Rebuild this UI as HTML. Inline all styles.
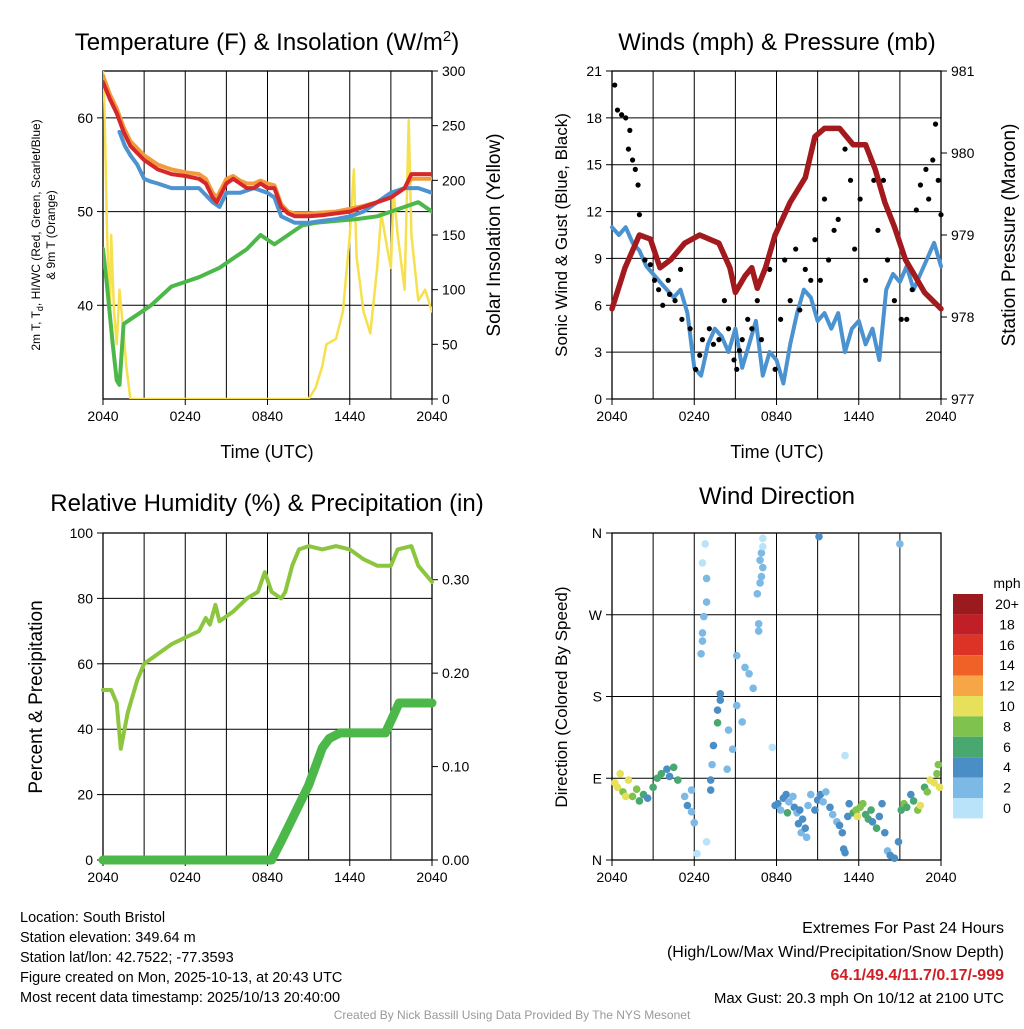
<!DOCTYPE html>
<html><head><meta charset="utf-8"><style>
body{margin:0;background:#fff;}
svg text{font-family:"Liberation Sans",sans-serif;fill:#000;}
</style></head><body>
<svg id="c" width="1024" height="1024" xmlns="http://www.w3.org/2000/svg"></svg>
<script>
// ---------- data ----------
const xTickLabels=["2040","0240","0840","1440","2040"];
// Panel 1: temperature (F) & insolation
const redT=[0,0.5,1,1.5,2,3,4,5,6,7,7.5,8,8.3,9,9.5,10,10.5,11,11.5,12,12.5,13,13.5,14,15,16,17,18,19,20,21,22,22.5,23,24];
const redV=[63.8,62,60.5,58.5,57,55.5,54.5,54,53.8,53.5,53,51.5,51,53,53.5,53,52.5,52.5,53,52.5,52.5,50.5,49.8,49.5,49.5,49.6,49.8,50,50.5,51,51.5,52.5,54,54,54];
const orgV=[64.5,62.5,61,59,57.5,56,55,54.5,54.2,54,53.5,52,51.5,53.5,53.8,53.3,53,53,53.3,53,52.8,50.8,50,49.8,49.8,49.9,50,50.3,50.6,51,51.5,52.5,53.5,53.5,53.5];
const bluT=[1.2,1.6,2,2.5,3,3.5,4,5,6,7,8,8.5,9,10,11,12,12.5,13,14,15,16,17,18,19,20,21,22,23,24];
const bluV=[58.5,57,56,55,53.5,53.2,53,52.5,52.5,52.5,51,50.5,52,52,52.5,52,51.5,49.5,48.8,48.8,49,49.2,49.5,50,51,52,52.5,52.5,52];
const grnT=[0,0.3,0.7,1,1.2,1.5,2,2.5,3.5,5,6,7,8.5,9.5,10.5,11.5,12,12.5,13.5,14.5,15.5,17,18.5,20,21,22,23,23.5,24];
const grnV=[46,42,36,32,31.5,38,38.5,39,40,42,42.5,43,44,45,46,47.5,47,46.5,47.5,48.5,48.8,49,49.2,49.5,50,50.5,51,50.5,50];
const solT=[0,0.1,0.3,0.5,0.6,0.8,1,1.2,1.5,1.7,2,15,15.5,16,16.3,17,17.5,18,18.2,18.3,18.5,19,19.5,20,20.3,20.7,21,21.2,21.5,22,22.3,22.5,23,23.5,24];
const solV=[300,270,150,80,150,80,50,100,60,30,0,0,10,30,50,55,80,150,190,210,130,80,60,120,170,140,120,190,150,100,255,150,90,100,80];
// Panel 2: winds & pressure
const presT=[0,0.95,2,2.8,3.5,4.3,5.3,6.4,7.8,8.6,9,9.7,10.2,10.6,11.2,11.9,13,14.1,14.8,15.5,16.6,17.6,18.5,19.2,19.9,20.6,21.4,22.1,22.8,24];
const presV=[978.1,978.6,979.0,978.95,978.6,978.7,978.9,979.0,978.9,978.6,978.3,978.5,978.6,978.35,978.6,979.0,979.4,979.7,980.2,980.3,980.3,980.1,980.1,979.8,979.4,979.1,978.7,978.5,978.3,978.1];
const windT=[0,0.5,1,1.5,2,2.5,3,3.5,4,4.5,5,5.5,6,6.5,7,7.5,8,8.5,9,9.5,10,10.5,11,11.5,12,12.5,13,13.5,14,14.5,15,15.5,16,16.5,17,17.5,18,18.5,19,19.5,20,20.5,21,21.5,22,22.5,23,23.5,24];
const windV=[11,10.5,11,10,9.5,8.5,8,7.5,7,6.5,7,5.5,2,1.5,3.5,4.5,4,3,4.5,2,3.5,5,1.5,3,2.5,1,3.5,5.5,7,6.5,5,5.5,4.5,5.5,3,4.5,5,3.5,4.5,2.5,7,8,7.5,8.5,7,8,9,10,8.5];
const gustT=[0.2,0.4,0.7,1,1.2,1.3,1.5,1.7,1.9,2,2.4,2.8,3.1,3.4,3.7,4.1,4.2,4.6,5,5.1,5.7,6.1,6.4,6.6,7.1,7.4,7.8,8.2,8.5,8.9,9.1,9.3,9.5,9.9,10.2,10.6,10.9,11.5,11.9,12.3,12.6,13,13.4,13.7,14.1,14.5,14.8,15.2,15.5,15.8,16.2,16.5,17,17.4,17.7,18.1,18.5,18.9,19.1,19.4,19.8,20.1,20.6,21.1,21.5,21.9,22.2,22.5,22.9,23.1,23.4,23.6,23.8,24];
const gustV=[20.1,18.5,18.2,18,16,17.2,15.3,14.7,13.7,11.8,8.9,8.6,7.6,7,6,7.6,6.7,6.3,8.3,5.1,4.5,1.9,2.8,3.8,4.5,3.5,3.8,6.3,4.5,2.5,1.9,3.1,3.8,5.1,4.5,6.3,3.8,8.3,1.9,5.1,8.9,6.3,9.6,5.7,8.3,7.6,10.2,7.6,12.8,8.9,10.8,11.5,16,14,9.6,12.8,7.6,15.3,14,10.8,14,8.9,6.3,5.1,5.1,7,12.1,13.7,14.7,12.8,15.3,17.6,14,11.8];
// Panel 3: RH & precipitation
const rhT=[0,0.6,1,1.3,1.8,2.5,3,4,5,6,7,7.5,7.8,8.2,8.5,9.5,10.5,11.3,11.8,12.3,13,13.3,13.8,14.3,15,16,17,18,19,20,21,21.5,22.5,23,24];
const rhV=[52,52,48,34,45,55,60,63,66,68,70,74,72,78,73,76,80,82,88,82,80,82,90,95,96,95,96,95,92,90,90,95,96,90,85];
const prT=[0,12.3,13,13.5,14,14.5,15,15.5,16,16.5,17.3,20.6,21.2,21.6,24];
const prV=[0,0,0.02,0.035,0.05,0.065,0.08,0.1,0.12,0.13,0.136,0.136,0.155,0.168,0.168];
// Panel 4: wind direction (time h, direction deg, speed mph)
const dirT=[0.2,0.4,0.6,0.8,1,1.2,1.5,1.8,2,2.3,2.6,3,3.3,3.6,4,4.2,4.5,4.8,5.3,5.5,5.8,5.8,6.0,6.2,6.9,6.8,6.6,6.9,6.9,6.7,6.6,6.6,6.5,7.2,7.2,7.3,7.4,7.7,7.7,7.9,7.9,8.4,8.5,8.8,9.1,9.1,9.5,9.7,10.0,10.3,10.6,10.7,10.7,10.8,10.8,10.9,10.9,11.0,11.0,11.0,11.7,15.1,17.0,21.0,11.9,12.1,12.3,12.5,12.7,12.8,12.9,13.2,13.3,13.5,13.6,13.8,13.9,14.1,14.2,13.7,14.3,14.5,14.8,15,15.2,15.4,15.6,15.9,16.1,16.4,16.6,16.8,16.9,17,17.2,17.3,17.6,17.8,17.9,18.1,18.3,18.5,18.7,18.9,19,19.3,19.5,19.7,19.9,20.1,20.3,20.6,20.9,21.1,21.3,21.5,21.8,22,22.3,22.5,22.8,23,23.2,23.5,23.7,23.9,23.8];
const dirV=[85,80,95,75,70,88,70,78,65,72,68,80,90,95,100,92,102,88,70,60,77,53,41,7,20,348,327,310,284,268,250,241,227,88,77,105,126,165,151,183,176,100,143,122,170,225,152,212,205,189,293,260,252,305,330,312,338,345,354,322,124,356,115,348,60,62,55,68,72,52,64,70,58,52,40,30,45,35,25,55,60,72,55,66,72,64,75,58,50,42,38,30,12,8,48,62,52,55,48,58,62,50,45,55,42,35,48,62,30,10,5,2,20,55,62,58,72,65,55,60,80,75,88,85,95,80,105];
const dirS=[10,10,10,9,10,10,8,9,6,7,5,6,6,7,5,4,6,7,3,4,2,2,2,1,1,1,1,2,2,2,2,2,2,4,4,3,4,4,6,4,4,3,2,3,3,3,2,3,3,2,2,2,2,2,3,2,2,1,1,2,1,4,1,3,4,4,3,5,4,6,2,2,4,2,4,2,4,4,2,4,3,2,4,4,4,3,2,4,3,2,4,4,4,4,4,4,6,8,10,8,8,6,6,6,4,6,4,4,4,2,4,4,4,6,8,6,4,6,8,10,6,8,10,10,8,10,8];
const cbLabels=["20+","18","16","14","12","10","8","6","4","2","0"];
const cbColors=["#9b1a1e","#c01f27","#dd3326","#ef6127","#f6a547","#e6e05a","#7fc24e","#48a86f","#4a8ec5","#7db9e5","#b9e3f8"];

// ---------- helpers ----------
const svg=document.getElementById('c');
const NS='http://www.w3.org/2000/svg';
function el(tag,attrs,parent){const e=document.createElementNS(NS,tag);for(const k in attrs)e.setAttribute(k,attrs[k]);(parent||svg).appendChild(e);return e;}
function txt(s,x,y,size,anchor,parent,rot){const t=el('text',{x:x,y:y,'font-size':size,'text-anchor':anchor||'middle'},parent);if(rot!==undefined)t.setAttribute('transform','rotate('+rot+' '+x+' '+y+')');t.textContent=s;return t;}
function scale(d0,d1,r0,r1){return v=>r0+(v-d0)/(d1-d0)*(r1-r0);}
function line(g,T,V,sx,sy,color,w){let d='';T.forEach((t,i)=>{d+=(i?'L':'M')+sx(t).toFixed(1)+','+sy(V[i]).toFixed(1);});return el('path',{d:d,fill:'none',stroke:color,'stroke-width':w,'stroke-linejoin':'round','stroke-linecap':'round'},g);}

function frame(name,x0,y0,x1,y1,hGrid){
  const g=el('g',{});
  
  
  const sx=scale(0,24,x0,x1);
  for(let h=3;h<24;h+=3)el('line',{x1:sx(h),x2:sx(h),y1:y0,y2:y1,stroke:'#000','stroke-width':1},g);
  hGrid.forEach(y=>el('line',{x1:x0,x2:x1,y1:y,y2:y,stroke:'#000','stroke-width':1},g));
  el('rect',{x:x0,y:y0,width:x1-x0,height:y1-y0,fill:'none',stroke:'#000','stroke-width':1.3},g);
  const xa=el('g',{},g);
  
  
  xTickLabels.forEach((l,i)=>{const x=sx(i*6);el('line',{x1:x,x2:x,y1:y1,y2:y1+6,stroke:'#000'},xa);txt(l,x,y1+22,14,'middle',xa);});
  return {g,sx};
}
function yTicks(g,vals,labels,sy,x,side,name){
  const a=el('g',{},g);
  
  
  vals.forEach((v,i)=>{const y=sy(v);el('line',{x1:x,x2:x+(side<0?-6:6),y1:y,y2:y,stroke:'#000'},a);txt(labels[i],x+(side<0?-10:10),y+5,14,side<0?'end':'start',a);});
}

// ---------- Panel 1 ----------
(function(){
  const X0=103,X1=432,Y0=71,Y1=399;
  const sy=scale(30,65,Y1,Y0), sr=scale(0,300,Y1,Y0);
  const f=frame('temperature-panel',X0,Y0,X1,Y1,[40,50,60].map(sy));
  const g=f.g,sx=f.sx;
  const t=txt('Temperature (F) & Insolation (W/m',267,50,24,'middle',g);
  const sup=el('tspan',{dy:-9,'font-size':15},t);sup.textContent='2';
  const cl=el('tspan',{dy:9},t);cl.textContent=')';
  
  yTicks(g,[40,50,60],['40','50','60'],sy,X0,-1,'temperature-y-axis');
  yTicks(g,[0,50,100,150,200,250,300],['0','50','100','150','200','250','300'],sr,X1,1,'insolation-y-axis');
  txt('Time (UTC)',267,458,18,'middle',g);
  const l1=txt('2m T, T',40,235,12,'middle',g,-90);
  const sb=el('tspan',{dy:3,'font-size':9},l1);sb.textContent='d';
  const r1=el('tspan',{dy:-3},l1);r1.textContent=', HI/WC (Red, Green, Scarlet/Blue)';
  txt('& 9m T (Orange)',55,235,12,'middle',g,-90);
  txt('Solar Insolation (Yellow)',500,235,19,'middle',g,-90);
  const cp=el('clipPath',{id:'cp1'},g);el('rect',{x:X0,y:Y0,width:X1-X0,height:Y1-Y0},cp);
  const s=el('g',{'clip-path':'url(#cp1)'},g);
  let p;
  p=line(s,solT,solV,sx,sr,'#f7e04e',2.5);
  p=line(s,grnT,grnV,sx,sy,'#4cb849',4);
  p=line(s,redT,orgV,sx,sy,'#f39a3a',4);
  p=line(s,bluT,bluV,sx,sy,'#4d93cf',4);
  p=line(s,redT,redV,sx,sy,'#d6282a',4);
})();

// ---------- Panel 2 ----------
(function(){
  const X0=612,X1=941,Y0=71,Y1=399;
  const sy=scale(0,21,Y1,Y0), sp=scale(977,981,Y1,Y0);
  const f=frame('winds-panel',X0,Y0,X1,Y1,[3,6,9,12,15,18].map(sy));
  const g=f.g,sx=f.sx;
  const t=txt('Winds (mph) & Pressure (mb)',777,50,24,'middle',g);
  
  yTicks(g,[0,3,6,9,12,15,18,21],['0','3','6','9','12','15','18','21'],sy,X0,-1,'wind-y-axis');
  yTicks(g,[977,978,979,980,981],['977','978','979','980','981'],sp,X1,1,'pressure-y-axis');
  txt('Time (UTC)',777,458,18,'middle',g);
  txt('Sonic Wind & Gust (Blue, Black)',567,235,17,'middle',g,-90);
  txt('Station Pressure (Maroon)',1015,235,19,'middle',g,-90);
  let p=line(g,windT,windV,sx,sy,'#4b92d0',4);
  const gg=el('g',{},g);
  
  
  gustT.forEach((tt,i)=>{el('circle',{cx:sx(tt),cy:sy(gustV[i]),r:2.6,fill:'#000'},gg);});
  p=line(g,presT,presV,sx,sp,'#a31a1e',5.5);
})();

// ---------- Panel 3 ----------
(function(){
  const X0=103,X1=432,Y0=533,Y1=860;
  const sy=scale(0,100,Y1,Y0), sr=scale(0,0.35,Y1,Y0);
  const f=frame('humidity-panel',X0,Y0,X1,Y1,[20,40,60,80].map(sy));
  const g=f.g,sx=f.sx;
  const t=txt('Relative Humidity (%) & Precipitation (in)',267,511,24,'middle',g);
  
  yTicks(g,[0,20,40,60,80,100],['0','20','40','60','80','100'],sy,X0,-1,'humidity-y-axis');
  yTicks(g,[0,0.1,0.2,0.3],['0.00','0.10','0.20','0.30'],sr,X1,1,'precip-y-axis');
  txt('Percent & Precipitation',42,697,19,'middle',g,-90);
  let p=line(g,rhT,rhV,sx,sy,'#8cc63f',4);
  p=line(g,prT,prV,sx,sr,'#4cb849',9);
})();

// ---------- Panel 4 ----------
(function(){
  const X0=612,X1=941,Y0=533,Y1=860;
  const sy=scale(0,360,Y1,Y0);
  const f=frame('wind-direction-panel',X0,Y0,X1,Y1,[90,180,270].map(sy));
  const g=f.g,sx=f.sx;
  const t=txt('Wind Direction',777,504,24,'middle',g);
  
  yTicks(g,[0,90,180,270,360],['N','E','S','W','N'],sy,X0,-1,'direction-y-axis');
  txt('Direction (Colored By Speed)',567,697,17,'middle',g,-90);
  const pg=el('g',{},g);
  
  
  dirT.forEach((tt,i)=>{const k=Math.max(0,Math.min(10,10-Math.floor(dirS[i]/2)));el('circle',{cx:sx(tt),cy:sy(dirV[i]),r:3.8,fill:cbColors[k]},pg);});
  const cb=el('g',{});
  
  
  txt('mph',1007,588,14,'middle',cb);
  cbLabels.forEach((l,i)=>{const y=594+i*20.4;el('rect',{x:953,y:y,width:30,height:20.4,fill:cbColors[i]},cb);txt(l,1007,y+15,14,'middle',cb);});
})();

// ---------- Footer ----------
(function(){
  const fl=el('g',{});
  
  
  ["Location: South Bristol","Station elevation: 349.64 m","Station lat/lon: 42.7522; -77.3593","Figure created on Mon, 2025-10-13, at 20:43 UTC","Most recent data timestamp: 2025/10/13 20:40:00"].forEach((s,i)=>txt(s,20,922+i*20,14.5,'start',fl));
  const fr=el('g',{});
  
  
  txt('Extremes For Past 24 Hours',1004,933,16,'end',fr);
  txt('(High/Low/Max Wind/Precipitation/Snow Depth)',1004,957,16,'end',fr);
  const e=txt('64.1/49.4/11.7/0.17/-999',1004,980,16,'end',fr);e.setAttribute('font-weight','bold');e.style.fill='#d01f25';
  txt('Max Gust: 20.3 mph On 10/12 at 2100 UTC',1004,1003,15,'end',fr);
  const c=txt('Created By Nick Bassill Using Data Provided By The NYS Mesonet',512,1019,12,'middle');
  c.style.fill='#999';
  
  
})();
</script>
</body></html>
